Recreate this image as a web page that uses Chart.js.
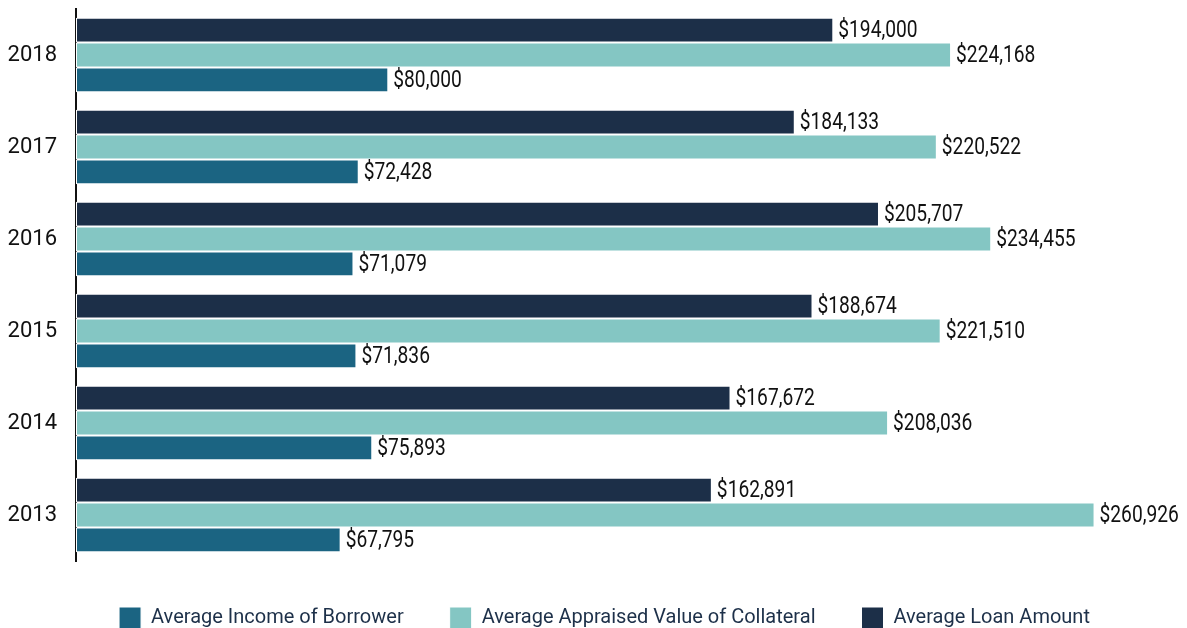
<!DOCTYPE html>
<html>
<head>
<meta charset="utf-8">
<script src="https://cdn.jsdelivr.net/npm/chart.js@4"></script>
<style>
  html, body { margin: 0; padding: 0; background: #fff; }
  #wrap { width: 1187px; height: 628px; }
</style>
</head>
<body>
<div id="wrap"><canvas id="loanChart"></canvas></div>
<script>
const years = ['2018', '2017', '2016', '2015', '2014', '2013'];
const loanAmount = [194000, 184133, 205707, 188674, 167672, 162891];
const appraisedValue = [224168, 220522, 234455, 221510, 208036, 260926];
const borrowerIncome = [80000, 72428, 71079, 71836, 75893, 67795];

const FONT = 'Roboto, "DejaVu Sans Condensed", sans-serif';

// "$xxx,xxx" at the end of every bar, squeezed a bit to look condensed
const valueLabels = {
    id: 'valueLabels',
    afterLayout(chart) {
        // legend sits a little right of centre in the original
        chart.legend.left += 18;
        chart.legend.right += 18;
    },
    afterDatasetsDraw(chart) {
        const ctx = chart.ctx;
        const sx = 0.8;
        ctx.save();
        ctx.font = '24px Roboto, sans-serif';
        ctx.fillStyle = '#111';
        ctx.textAlign = 'left';
        ctx.textBaseline = 'middle';
        ctx.scale(sx, 1);
        chart.data.datasets.forEach((ds, i) => {
            chart.getDatasetMeta(i).data.forEach((bar, j) => {
                ctx.fillText('$' + ds.data[j].toLocaleString('en-US'), (bar.x + 5) / sx, bar.y + 1);
            });
        });
        ctx.restore();
    }
};

const chart = new Chart(document.getElementById('loanChart'), {
    type: 'bar',
    data: {
        labels: years,
        datasets: [
            { label: 'Average Loan Amount', data: loanAmount, backgroundColor: '#1c2f48' },
            { label: 'Average Appraised Value of Collateral', data: appraisedValue, backgroundColor: '#84c6c3' },
            { label: 'Average Income of Borrower', data: borrowerIncome, backgroundColor: '#1b6482' }
        ]
    },
    options: {
        indexAxis: 'y',
        responsive: true,
        maintainAspectRatio: false,
        animation: false,
        datasets: {
            bar: {
                categoryPercentage: 0.81,
                barPercentage: 1,
                borderColor: '#ffffff',
                borderWidth: 1,
                borderSkipped: false
            }
        },
        layout: { padding: { left: 4, right: 18, top: 9, bottom: 0 } },
        scales: {
            x: {
                display: false,
                min: 0,
                max: 280000
            },
            y: {
                afterFit: scale => {
                    scale.width = 72;
                    scale.paddingTop = 0;
                    scale.paddingBottom = 0;
                },
                grid: { display: false, drawTicks: false },
                border: { display: true, color: '#111', width: 2 },
                ticks: {
                    color: '#111',
                    padding: 19,
                    font: { family: FONT, size: 22 }
                }
            }
        },
        plugins: {
            tooltip: { enabled: false },
            legend: {
                position: 'bottom',
                reverse: true,
                maxHeight: 67,
                labels: {
                    boxWidth: 22,
                    boxHeight: 22,
                    padding: 46,
                    color: '#1d3049',
                    font: { family: FONT, size: 20 }
                }
            }
        }
    },
    plugins: [valueLabels]
});
</script>
</body>
</html>
